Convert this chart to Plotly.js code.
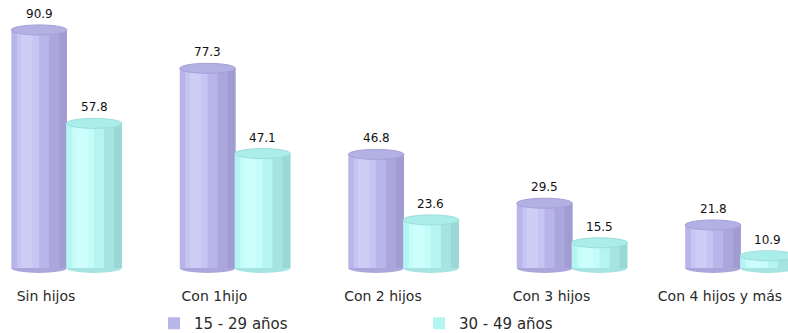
<!DOCTYPE html>
<html>
<head>
<meta charset="utf-8">
<script src="https://cdn.plot.ly/plotly-3.0.1.min.js"></script>
<style>html,body{margin:0;padding:0;background:#fff;}#chart{width:788px;height:333px;}</style>
</head>
<body>
<div id="chart"></div>
<script>
// ---- data ----
const categories = ["Sin hijos", "Con 1hijo", "Con 2 hijos", "Con 3 hijos", "Con 4 hijos y más"];
const seriesNames = ["15 - 29 años", "30 - 49 años"];
const young = [90.9, 77.3, 46.8, 29.5, 21.8];
const older = [57.8, 47.1, 23.6, 15.5, 10.9];

// ---- style / geometry ----
const FONT = "DejaVu Sans, Verdana, Arial, sans-serif";
const GROUP_OFF = 0.163, BAR_W = 0.33;
const X_RANGE = [-0.395, 4.282], Y_RANGE = [6.56, 101.5];
const PLOT_H = 268;
const RY = 5 * (Y_RANGE[1] - Y_RANGE[0]) / PLOT_H;   // ellipse half-height in data units
const styles = [
  {base: "#b7b5e9", light: "#c6c4f2", lighter: "#cecdf6", dark: "#aba7dc", darker: "#a19dd3", top: "#b3b0e3", topLine: "#a5a1d8"},
  {base: "#b4f5f2", light: "#c4fcfa", lighter: "#cdfefc", dark: "#a5e4e1", darker: "#99d8d5", top: "#abede9", topLine: "#9cdedb"}
];
// strips across a cylinder: [start fraction, end fraction, colour key]
const strips = [
  [0.00, 1.00, "base"],
  [0.10, 0.50, "light"],
  [0.18, 0.38, "lighter"],
  [0.68, 1.00, "dark"],
  [0.86, 1.00, "darker"]
];

const idx = categories.map((_, i) => i);
const series = [young, older];
const traces = [];
const shapes = [];
const annotations = [];

series.forEach((vals, s) => {
  const st = styles[s];
  const centre = s === 0 ? -GROUP_OFF : GROUP_OFF;
  strips.forEach((strip, k) => {
    traces.push({
      type: "bar",
      name: seriesNames[s],
      x: idx,
      y: vals,
      width: BAR_W * (strip[1] - strip[0]),
      offset: centre - BAR_W / 2 + BAR_W * strip[0],
      marker: {color: st[strip[2]], line: {width: 0}},
      showlegend: k === 0,
      legendgroup: "s" + s,
      hoverinfo: k === 0 ? "y+name" : "skip"
    });
  });
  vals.forEach((v, i) => {
    const cx = i + centre;
    // top ellipse
    shapes.push({type: "circle", xref: "x", yref: "y",
      x0: cx - BAR_W / 2, x1: cx + BAR_W / 2, y0: v - RY, y1: v + RY,
      fillcolor: st.top, line: {color: st.topLine, width: 1}, layer: "above"});
    // bottom ellipse (below the floor)
    shapes.push({type: "circle", xref: "x", yref: "paper",
      x0: cx - BAR_W / 2, x1: cx + BAR_W / 2, y0: -5 / PLOT_H, y1: 5 / PLOT_H,
      fillcolor: st.dark, line: {width: 0}, layer: "below"});
    annotations.push({x: cx, y: v, xref: "x", yref: "y", text: v.toFixed(1),
      showarrow: false, yanchor: "bottom", yshift: 7,
      font: {family: FONT, size: 12, color: "#111"}});
  });
});

const layout = {
  width: 788, height: 333,
  margin: {l: 0, r: 0, t: 0, b: 333 - PLOT_H, pad: 0},
  paper_bgcolor: "#ffffff", plot_bgcolor: "#ffffff",
  barmode: "overlay",
  showlegend: true,
  xaxis: {
    range: X_RANGE, showgrid: false, zeroline: false, showline: false,
    tickmode: "array", tickvals: idx.map(i => i - 0.122), ticktext: categories,
    ticks: "", ticklabelstandoff: 18, automargin: false,
    tickfont: {family: FONT, size: 14, color: "#2a2a2a"}
  },
  yaxis: {range: Y_RANGE, visible: false, showgrid: false, zeroline: false, automargin: false},
  legend: {
    orientation: "h", xref: "container", yref: "container",
    x: 154 / 788, xanchor: "left", y: 1 - 307 / 333, yanchor: "top",
    entrywidth: 220, entrywidthmode: "pixels", traceorder: "normal",
    font: {family: FONT, size: 15, color: "#2a2a2a"}, bgcolor: "rgba(0,0,0,0)"
  },
  shapes: shapes,
  annotations: annotations
};

Plotly.newPlot("chart", traces, layout, {displayModeBar: false, staticPlot: true});
</script>
</body>
</html>
